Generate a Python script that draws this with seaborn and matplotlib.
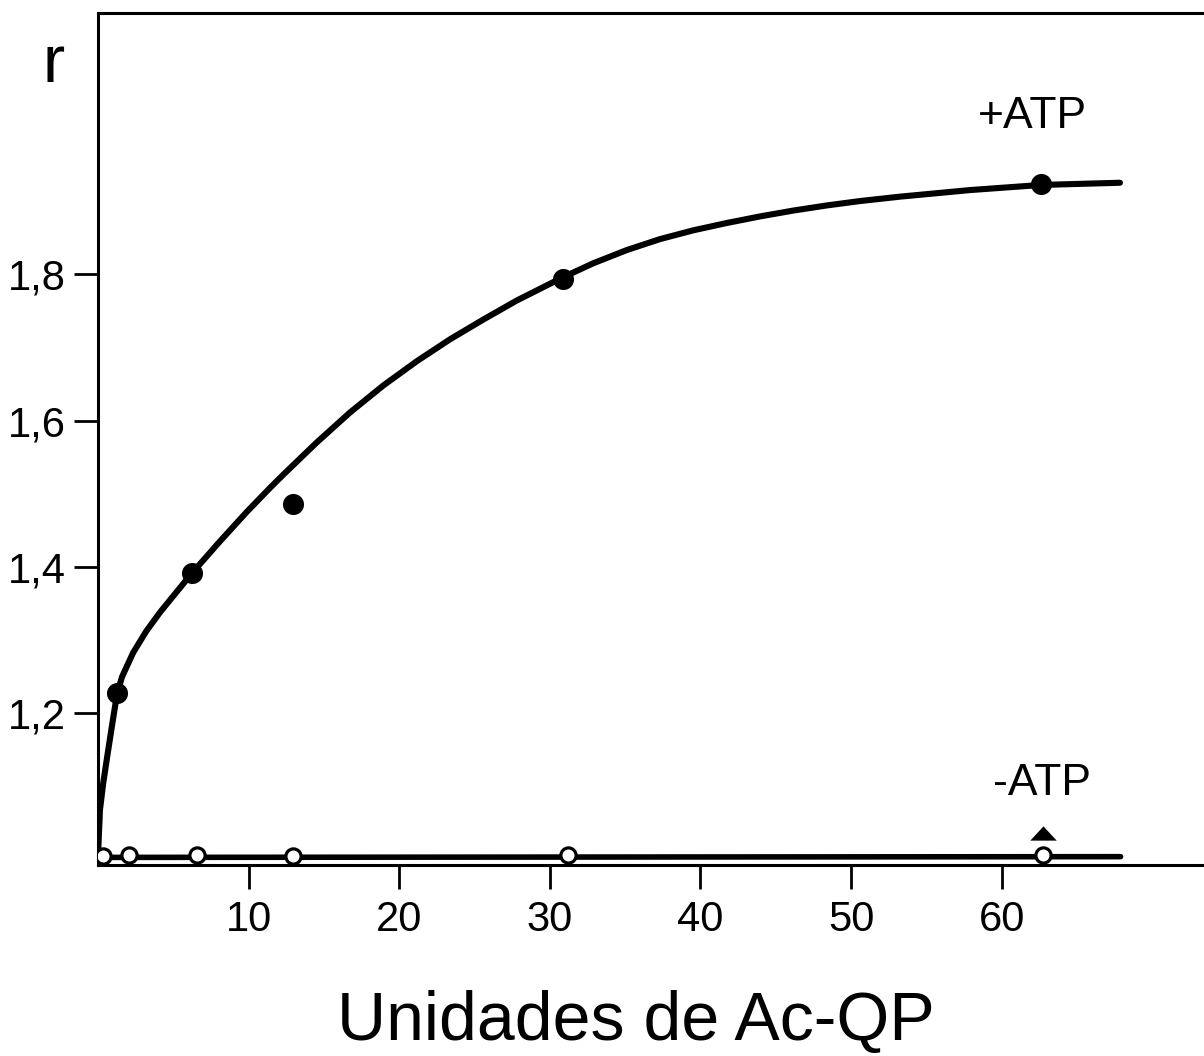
import matplotlib
matplotlib.use("Agg")
import matplotlib.pyplot as plt
import seaborn as sns
from matplotlib import font_manager

# ---------------- data ----------------
plus_x = [1.28, 6.22, 12.93, 30.86, 62.62]
plus_r = [1.228, 1.392, 1.486, 1.794, 1.923]

minus_x = [0.31, 2.08, 6.55, 12.97, 31.19, 62.77]
minus_r = [1.005, 1.006, 1.006, 1.005, 1.006, 1.006]

triangle_x = [62.77]
triangle_r = [1.036]

plus_curve_x = [0.0, 0.05, 0.13, 0.35, 0.68, 1.02, 1.28, 1.60, 2.34, 3.20,
                4.12, 6.22, 8.10, 9.87, 11.42, 12.30, 14.52, 16.73, 18.95,
                21.16, 23.37, 25.58, 27.80, 30.79, 32.89, 35.11, 37.32, 39.53,
                41.75, 43.96, 46.17, 48.39, 50.60, 53.25, 57.90, 62.62, 67.86]
plus_curve_r = [1.003, 1.030, 1.068, 1.105, 1.150, 1.195, 1.228, 1.250, 1.283,
                1.312, 1.338, 1.391, 1.435, 1.475, 1.508, 1.526, 1.570, 1.611,
                1.648, 1.681, 1.711, 1.738, 1.764, 1.795, 1.815, 1.833, 1.848,
                1.860, 1.870, 1.879, 1.887, 1.894, 1.900, 1.906, 1.915, 1.922,
                1.925]

minus_line_x = [0.0, 67.9]
minus_line_r = [1.003, 1.004]

x_ticks = [10, 20, 30, 40, 50, 60]
x_ticklabels = ["10", "20", "30", "40", "50", "60"]
y_ticks = [1.2, 1.4, 1.6, 1.8]
y_ticklabels = ["1,2", "1,4", "1,6", "1,8"]

# ---------------- style ----------------
sns.set_theme(style="white")


def has_font(name):
    try:
        font_manager.findfont(name, fallback_to_default=False)
        return True
    except Exception:
        return False


main = "Liberation Sans" if has_font("Liberation Sans") else "DejaVu Sans"
plt.rcParams["font.family"] = [main, "DejaVu Sans"]

W, H = 1204, 1056
fig = plt.figure(figsize=(W / 100, H / 100), dpi=100)
ax = fig.add_axes([98 / W, 1 - 865 / H, 1 - 98 / W, (865 - 13) / H])

# lines
sns.lineplot(x=plus_curve_x, y=plus_curve_r, sort=False, estimator=None, ax=ax,
             color="black", linewidth=4.4, solid_capstyle="round",
             solid_joinstyle="round", zorder=2)
sns.lineplot(x=minus_line_x, y=minus_line_r, sort=False, estimator=None, ax=ax,
             color="black", linewidth=4.0, solid_capstyle="round", zorder=2)

# markers
sns.scatterplot(x=plus_x, y=plus_r, ax=ax, color="black", s=230,
                edgecolor="black", linewidth=0, zorder=4)
sns.scatterplot(x=minus_x, y=minus_r, ax=ax, color="white", s=120,
                edgecolor="black", linewidth=2.3, zorder=4)
tri = [(-1.0, -0.54), (1.0, -0.54), (0.0, 0.54)]
sns.scatterplot(x=triangle_x, y=triangle_r, ax=ax, color="black", marker=tri,
                s=19 ** 2, edgecolor="black", linewidth=0, zorder=4)

ax.set_xlim(0, (W - 98) / 15.06)
ax.set_ylim(0.9926, 2.157)

ax.set_xticks(x_ticks)
ax.set_xticklabels(x_ticklabels)
ax.set_yticks(y_ticks)
ax.set_yticklabels(y_ticklabels)

for side in ["left", "top", "bottom"]:
    ax.spines[side].set_visible(True)
    ax.spines[side].set_color("black")
    ax.spines[side].set_linewidth(2.2)
ax.spines["right"].set_visible(False)

ax.tick_params(axis="both", which="major", direction="out", length=17,
               width=2.0, color="black", labelcolor="black")
ax.tick_params(axis="x", pad=8, bottom=True, labelsize=30)
ax.tick_params(axis="y", pad=6, left=True, labelsize=30)
ax.set_xlabel("")
ax.set_ylabel("")
ax.grid(False)

# texts
fig.text(54 / W, 1 - 82 / H, "r", fontsize=48, ha="center", va="baseline",
         color="black")
fig.text(636 / W, 1 - 1040 / H, "Unidades de Ac-QP", fontsize=49,
         ha="center", va="baseline", color="black")
fig.text(1032 / W, 1 - 128 / H, "+ATP", fontsize=32, ha="center",
         va="baseline", color="black")
fig.text(1042 / W, 1 - 795 / H, "-ATP", fontsize=32, ha="center",
         va="baseline", color="black")

fig.savefig("out.png", dpi=100, facecolor="white")
